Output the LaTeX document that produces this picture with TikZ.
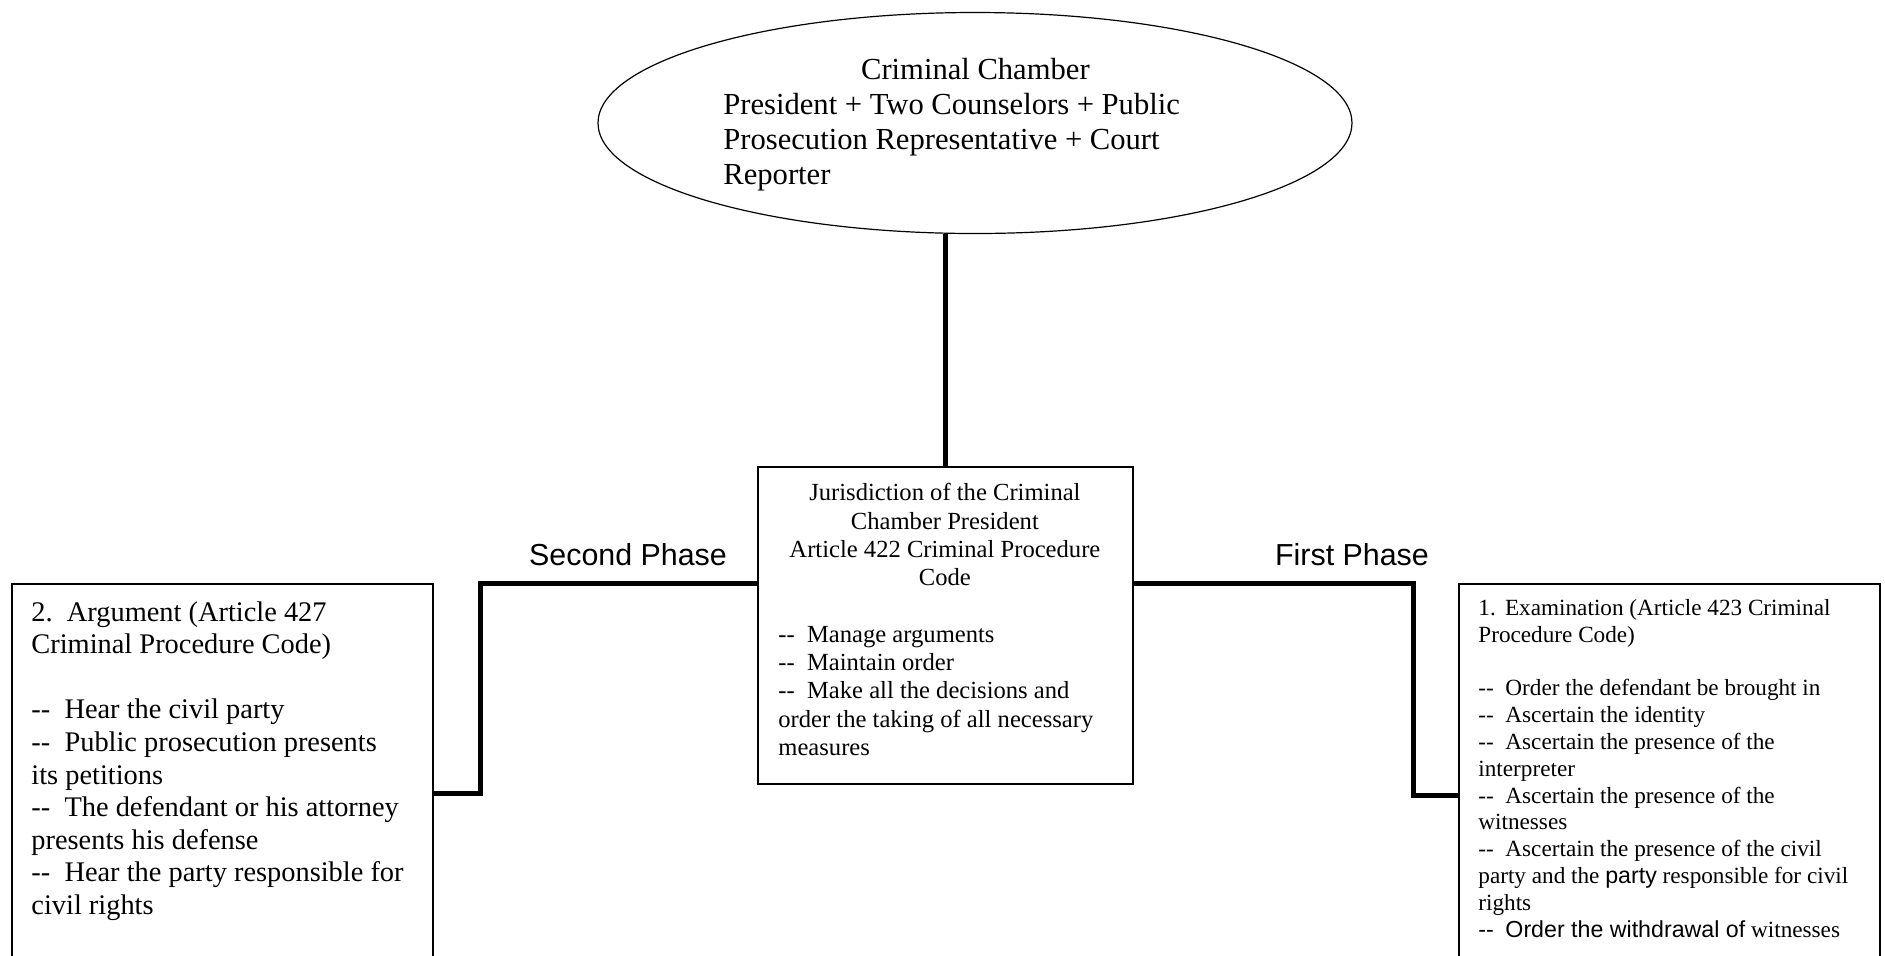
\documentclass[tikz,border=0pt]{standalone}
\usepackage{fontspec}
\setmainfont{Liberation Serif}
\setsansfont{Liberation Sans}
\usetikzlibrary{calc,shapes.geometric}

% two hyphens followed by a wide gap, as used in the bullet lists
\newcommand{\dashitem}{-{}-\hspace{0.5em}}

\begin{document}
\begin{tikzpicture}[x=0.5pt,y=-0.5pt,
  panel/.style={draw, line width=0.85pt, rectangle, inner sep=0pt, anchor=north west},
  link/.style={line width=2.5pt},
  txt/.style={inner sep=0pt, anchor=north west, align=left},
  phase/.style={inner sep=0pt, font=\sffamily\fontsize{15.2}{17}\selectfont}
]
\useasboundingbox (0,0) rectangle (1885,955);
\clip (0,0) rectangle (1885,955);

% the chamber
\node[draw, ellipse, line width=0.6pt, inner sep=0pt,
      minimum width=377pt, minimum height=110.5pt] (chamber) at (975,123) {};
\node[txt, font=\fontsize{15.3}{17.5}\selectfont] (chambertext) at (723,58)
  {\makebox[252pt][c]{Criminal Chamber}\\
   President + Two Counselors + Public\\
   Prosecution Representative + Court\\
   Reporter};

% jurisdiction of the president
\node[panel, minimum width=187.5pt, minimum height=158.5pt] (juris) at (757,466) {};
\node[txt, font=\fontsize{12.3}{14.15}\selectfont] (juristext) at (778,483)
  {\makebox[166.5pt][c]{Jurisdiction of the Criminal}\\
   \makebox[166.5pt][c]{Chamber President}\\
   \makebox[166.5pt][c]{Article 422 Criminal Procedure}\\
   \makebox[166.5pt][c]{Code}\\
   ~\\
   \dashitem Manage arguments\\
   \dashitem Maintain order\\
   \dashitem Make all the decisions and\\
   order the taking of all necessary\\
   measures};

% second phase: argument
\node[panel, minimum width=210.5pt, minimum height=195pt] (argue) at (11,583) {};
\node[txt, font=\fontsize{14.2}{16.3}\selectfont] (arguetext) at (31,601)
  {2.\hspace{0.5em}Argument (Article 427\\
   Criminal Procedure Code)\\
   ~\\
   \dashitem Hear the civil party\\
   \dashitem Public prosecution presents\\
   its petitions\\
   \dashitem The defendant or his attorney\\
   presents his defense\\
   \dashitem Hear the party responsible for\\
   civil rights};

% first phase: examination
\node[panel, minimum width=210.5pt, minimum height=195pt] (exam) at (1458,583) {};
\node[txt, font=\fontsize{11.6}{13.4}\selectfont] (examtext) at (1478,599)
  {1.\hspace{0.4em}Examination (Article 423 Criminal\\
   Procedure Code)\\
   ~\\
   \dashitem Order the defendant be brought in\\
   \dashitem Ascertain the identity\\
   \dashitem Ascertain the presence of the\\
   interpreter\\
   \dashitem Ascertain the presence of the\\
   witnesses\\
   \dashitem Ascertain the presence of the civil\\
   party and the {\sffamily party} responsible for civil\\
   rights\\
   {\sffamily\dashitem Order the withdrawal of} witnesses};

% phase labels
\node[phase] (second) at (628,555) {Second Phase};
\node[phase] (first) at (1352,555) {First Phase};

% connectors
\coordinate (lj) at ($(juris.north west)+(0,117)$);
\coordinate (rj) at ($(juris.north east)+(0,117)$);
\coordinate (la) at ($(argue.north east)+(0,210)$);
\coordinate (re) at ($(exam.north west)+(0,212)$);

\draw[link] (juris.north) -- (juris.north |- chamber.south);
\draw[link] (lj) -| ($(la)+(47,0)$) -- (la);
\draw[link] (rj) -| ($(re)+(-45,0)$) -- (re);
\end{tikzpicture}
\end{document}
